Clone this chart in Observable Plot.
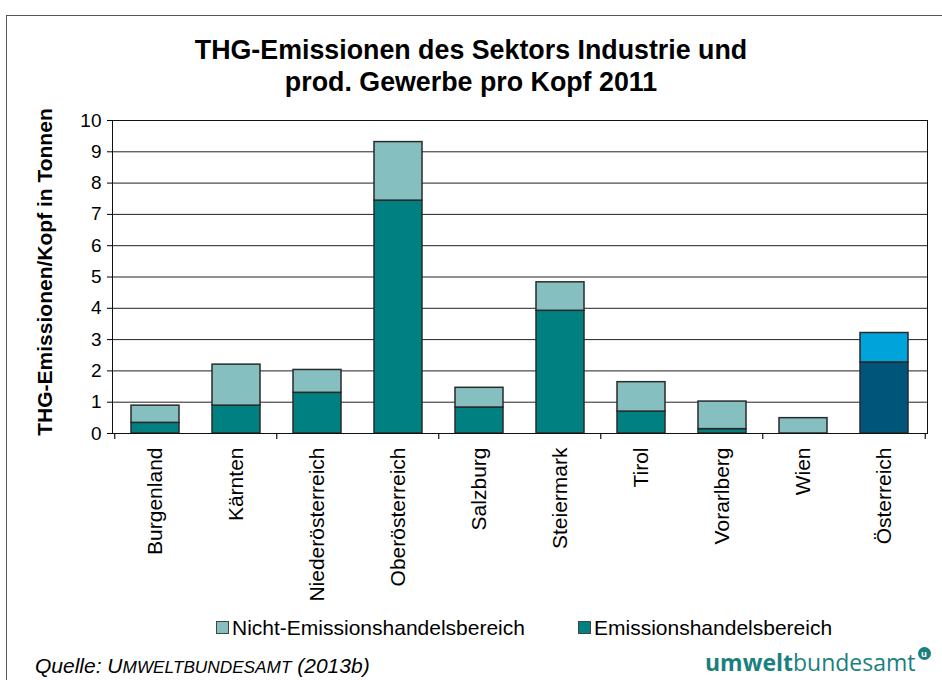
<!DOCTYPE html>
<html><head><meta charset="utf-8">
<script src="https://cdn.jsdelivr.net/npm/d3@7"></script>
<script src="https://cdn.jsdelivr.net/npm/@observablehq/plot@0.6"></script>
<style>
body{margin:0;background:#fff;font-family:"Liberation Sans",Arial,sans-serif;}
#wrap{position:relative;width:942px;height:680px;overflow:hidden;}
#frame{position:absolute;left:6px;top:15px;width:960px;height:700px;border:1px solid #555;}
#title{position:absolute;left:0;width:942px;top:34px;text-align:center;font-weight:bold;font-size:26.8px;line-height:32px;color:#000;}
#chart{position:absolute;left:0;top:0;}
#ylab{position:absolute;left:45px;top:272px;transform:translate(-50%,-50%) rotate(-90deg);font-weight:bold;font-size:21px;white-space:nowrap;}
.leg{position:absolute;top:616px;font-size:21px;color:#000;white-space:nowrap;}
.sw{display:inline-block;width:11px;height:11px;border:1px solid #444;margin-right:3px;vertical-align:1px;}
#src{position:absolute;left:35px;top:654px;font-size:21px;font-style:italic;}
#src .sc{font-size:0.82em;}
#logo{position:absolute;left:705px;top:646px;font-size:23px;color:#1a7f7f;font-family:"Open Sans","Liberation Sans",sans-serif;}
#logo b{font-weight:bold;}
#logo sup{display:inline-block;width:13px;height:13px;border-radius:7px;background:#1a7f7f;color:#fff;font-size:9px;line-height:13px;text-align:center;vertical-align:14px;margin-left:2px;font-weight:bold;}
</style></head>
<body>
<div id="wrap">
<div id="frame"></div>
<div id="title">THG-Emissionen des Sektors Industrie und<br>prod. Gewerbe pro Kopf 2011</div>
<div id="chart"></div>
<div id="ylab">THG-Emissionen/Kopf in Tonnen</div>
<div class="leg" style="left:216px"><span class="sw" style="background:#85bfbf"></span>Nicht-Emissionshandelsbereich</div>
<div class="leg" style="left:578px"><span class="sw" style="background:#008080"></span>Emissionshandelsbereich</div>
<div id="src">Quelle: U<span class="sc">MWELTBUNDESAMT</span> (2013b)</div>
<div id="logo"><b>umwelt</b>bundesamt<sup>u</sup></div>
</div>
<script>
const regions = ["Burgenland","Kärnten","Niederösterreich","Oberösterreich","Salzburg","Steiermark","Tirol","Vorarlberg","Wien","Österreich"];
const ets = [0.34,0.89,1.30,7.44,0.83,3.92,0.70,0.14,0.0,2.27];
const nonEts = [0.55,1.31,0.73,1.87,0.63,0.91,0.94,0.88,0.49,0.94];
const yTicks = [0,1,2,3,4,5,6,7,8,9,10];
const seriesNames = ["Emissionshandelsbereich","Nicht-Emissionshandelsbereich"];

const rows = [];
regions.forEach((r,i)=>{
  const total = r === "Österreich";
  rows.push({region:r, series:seriesNames[0], value:ets[i], fill: total ? "#00557a" : "#008080"});
  rows.push({region:r, series:seriesNames[1], value:nonEts[i], fill: total ? "#00a3da" : "#85bfbf"});
});

const W = 942, ML = 112, MR = 15;
const step = (W - ML - MR) / regions.length;
const tickCats = regions.filter((d,i)=> i%2===0);
const lastCat = [regions[regions.length-1]];

const chart = Plot.plot({
  width: W, height: 680,
  marginLeft: ML, marginRight: MR, marginTop: 120, marginBottom: 247,
  style:{fontFamily:"'Liberation Sans',Arial,sans-serif", fontSize:"19px", color:"#000", background:"transparent"},
  x:{domain:regions, paddingInner:0.41, paddingOuter:0.205, label:null},
  y:{domain:[0,10], ticks:yTicks, label:null},
  marks:[
    Plot.ruleY(yTicks,{stroke:"#222", strokeWidth:1}),
    Plot.barY(rows,{x:"region", y:"value", fill:"fill", stroke:"#2a2a2a", strokeWidth:1.5, order:seriesNames}),
    Plot.frame({stroke:"#111"}),
    Plot.axisY({ticks:yTicks, tickSize:5, tickPadding:6, label:null, fontSize:19}),
    Plot.axisX({tickSize:0, tickPadding:14, tickRotate:-90, label:null, fontSize:21}),
    Plot.ruleX(tickCats,{x:d=>d, y1:0, y2:0, insetBottom:-6, dx:-step/2, stroke:"#111", strokeWidth:1.2}),
    Plot.ruleX(lastCat,{x:d=>d, y1:0, y2:0, insetBottom:-6, dx:step/2, stroke:"#111", strokeWidth:1.2}),
  ]
});
document.getElementById("chart").appendChild(chart);
</script>
</body></html>
